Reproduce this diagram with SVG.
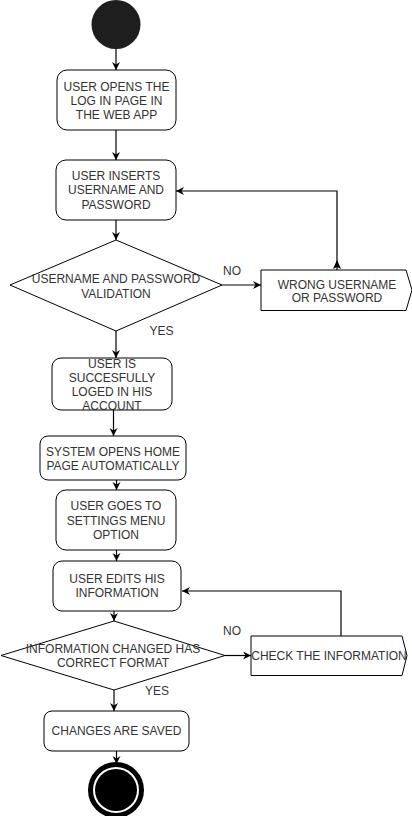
<svg xmlns="http://www.w3.org/2000/svg" width="412" height="816" viewBox="0 0 412 816">
<style>
.n{fill:#fff;stroke:#000;stroke-width:1}
.t{font-family:"Liberation Sans",Arial,sans-serif;font-size:12px;fill:#333;text-anchor:middle}
.e{fill:none;stroke:#000;stroke-width:1.2}
</style>
<defs>
<marker id="a" markerUnits="userSpaceOnUse" markerWidth="10" markerHeight="10" refX="8" refY="4" orient="auto">
<path d="M0,0 L8,4 L0,8 L2.5,4 z" fill="#000"/>
</marker>
</defs>
<g id="connectors">
<path class="e" d="M116,49 V70" marker-end="url(#a)"/>
<path class="e" d="M116,130 V160" marker-end="url(#a)"/>
<path class="e" d="M116,220 V240" marker-end="url(#a)"/>
<path class="e" d="M222,285 H261" marker-end="url(#a)"/>
<path class="e" d="M337,270 V191 H176" marker-end="url(#a)"/>
<path d="M337,260 L341,269 L337,267 L333,269 z" fill="#000"/>
<path class="e" d="M116,331 V358" marker-end="url(#a)"/>
<path class="e" d="M113.5,410 V436" marker-end="url(#a)"/>
<path class="e" d="M116.5,480 V490" marker-end="url(#a)"/>
<path class="e" d="M116.5,550 V561" marker-end="url(#a)"/>
<path class="e" d="M114,611 V621" marker-end="url(#a)"/>
<path class="e" d="M225,655.5 H251" marker-end="url(#a)"/>
<path class="e" d="M341,636 V591 H182" marker-end="url(#a)"/>
<path class="e" d="M114,690 V711" marker-end="url(#a)"/>
<path class="e" d="M116.5,751 V764" marker-end="url(#a)"/>
</g>
<g id="start"><circle cx="116" cy="24.5" r="24.5" fill="#1e1e1e"/></g>
<g id="open-login"><rect class="n" x="57" y="70" width="119" height="60" rx="10"/>
<text class="t" x="116.5" y="91.3">USER OPENS THE</text><text class="t" x="116.5" y="105">LOG IN PAGE IN</text><text class="t" x="116.5" y="118.7">THE WEB APP</text></g>
<g id="insert-credentials"><rect class="n" x="56" y="160" width="120" height="60" rx="10"/>
<text class="t" x="116" y="179.5">USER INSERTS</text><text class="t" x="116" y="194">USERNAME AND</text><text class="t" x="116" y="208.5">PASSWORD</text></g>
<g id="validation"><path class="n" d="M116,240 L222,285 L116,331 L10,285 z"/>
<text class="t" x="116" y="282.6">USERNAME AND PASSWORD</text><text class="t" x="116" y="297.6">VALIDATION</text></g>
<g id="wrong"><path class="n" d="M261,270 H406 L412,290 L406,310.5 H261 z"/>
<text class="t" x="337" y="288.6">WRONG USERNAME</text><text class="t" x="337" y="302">OR PASSWORD</text></g>
<g id="labels1"><text class="t" x="232" y="275.3">NO</text><text class="t" x="161.5" y="335.3">YES</text></g>
<g id="logged-in"><rect class="n" x="52" y="358" width="120" height="52" rx="9"/>
<text class="t" x="112" y="368.3">USER IS</text><text class="t" x="112" y="382">SUCCESFULLY</text><text class="t" x="112" y="396">LOGED IN HIS</text><text class="t" x="112" y="410">ACCOUNT</text></g>
<g id="home-page"><rect class="n" x="40" y="436" width="146" height="44" rx="8"/>
<text class="t" x="113" y="456">SYSTEM OPENS HOME</text><text class="t" x="113" y="470.3">PAGE AUTOMATICALLY</text></g>
<g id="settings"><rect class="n" x="56" y="490" width="120" height="60" rx="10"/>
<text class="t" x="116" y="510.3">USER GOES TO</text><text class="t" x="116" y="525">SETTINGS MENU</text><text class="t" x="116" y="538.6">OPTION</text></g>
<g id="edit-info"><rect class="n" x="53" y="561" width="128" height="50" rx="9"/>
<text class="t" x="117" y="582.6">USER EDITS HIS</text><text class="t" x="117" y="596.6">INFORMATION</text></g>
<g id="format-check"><path class="n" d="M114,621 L225,655.5 L114,690 L1,655.5 z"/>
<text class="t" x="113" y="653.3">INFORMATION CHANGED HAS</text><text class="t" x="113" y="667">CORRECT FORMAT</text></g>
<g id="check-info"><path class="n" d="M251,636 H402 L407,655.5 L402,675.5 H251 z"/>
<text class="t" x="329" y="660">CHECK THE INFORMATION</text></g>
<g id="labels2"><text class="t" x="232" y="635.3">NO</text><text class="t" x="157" y="695">YES</text></g>
<g id="saved"><rect class="n" x="44" y="711" width="145" height="40" rx="8"/>
<text class="t" x="116.5" y="735">CHANGES ARE SAVED</text></g>
<g id="end"><circle cx="116" cy="790" r="25.5" fill="#fff" stroke="#000" stroke-width="5"/><circle cx="116" cy="790" r="21" fill="#000"/></g>
</svg>
